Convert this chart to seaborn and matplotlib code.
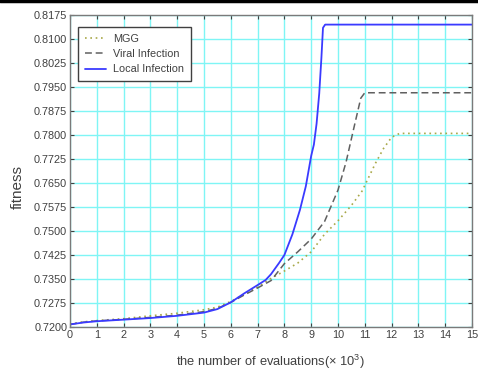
import matplotlib
matplotlib.use("Agg")
import matplotlib.pyplot as plt
import seaborn as sns
import pandas as pd
from matplotlib.lines import Line2D

# ---- data ----
local_x = [0, 0.5, 1, 2, 3, 4, 5, 5.5, 6, 6.5, 7, 7.3, 7.5, 7.8, 8, 8.3, 8.58, 8.8,
           9.0, 9.1, 9.2, 9.3, 9.38, 9.44, 9.52, 15]
local_y = [0.7208, 0.7214, 0.7218, 0.7223, 0.7228, 0.7235, 0.7245, 0.7256, 0.7277, 0.7305,
           0.7331, 0.7347, 0.7365, 0.7400, 0.7425, 0.7490, 0.7566, 0.7640,
           0.7735, 0.7770, 0.7835, 0.7930, 0.8040, 0.8135, 0.8145, 0.8145]

viral_x = [0, 0.5, 1, 2, 3, 4, 5, 5.5, 6, 6.5, 7, 7.5, 8, 8.5, 9, 9.5, 10, 10.3, 10.6,
           10.85, 11.0, 15]
viral_y = [0.7208, 0.7215, 0.7219, 0.7224, 0.7230, 0.7237, 0.7248, 0.7258, 0.7277, 0.7300,
           0.7322, 0.7345, 0.7398, 0.7435, 0.7475, 0.7530, 0.7628, 0.7715, 0.7825,
           0.7915, 0.7932, 0.7932]

mgg_x = [0, 0.5, 1, 2, 3, 4, 5, 5.5, 6, 6.5, 7, 7.5, 8, 8.5, 9, 9.5, 10, 10.5, 10.9,
         11.1, 11.4, 11.7, 12.0, 12.3, 15]
mgg_y = [0.7209, 0.7216, 0.7220, 0.7226, 0.7235, 0.7243, 0.7254, 0.7262, 0.7280, 0.7302,
         0.7325, 0.7352, 0.7375, 0.7400, 0.7435, 0.7490, 0.7532, 0.7580, 0.7625,
         0.7660, 0.7712, 0.7758, 0.7793, 0.7805, 0.7805]

series_names = ["MGG", "Viral Infection", "Local Infection"]
x_ticks = list(range(0, 16))
y_ticks = [0.7200, 0.7275, 0.7350, 0.7425, 0.7500, 0.7575, 0.7650, 0.7725,
           0.7800, 0.7875, 0.7950, 0.8025, 0.8100, 0.8175]
x_label = "the number of evaluations(× 10$^3$)"
y_label = "fitness"

# ---- plot ----
sns.set_style("white")
plt.rcParams['font.family'] = ['Liberation Sans', 'DejaVu Sans']
plt.rcParams['mathtext.fontset'] = 'custom'
plt.rcParams['mathtext.rm'] = 'Liberation Sans'

fig = plt.figure(figsize=(4.78, 3.74), dpi=100)
ax = fig.add_axes([70/478, 1-327/374, 402/478, 312/374])

df_m = pd.DataFrame({"x": mgg_x, "y": mgg_y})
df_v = pd.DataFrame({"x": viral_x, "y": viral_y})
df_l = pd.DataFrame({"x": local_x, "y": local_y})

sns.lineplot(data=df_m, x="x", y="y", ax=ax, color="#a8a848", lw=1.2,
             linestyle=(0, (1, 2.2)), label=series_names[0], sort=False, estimator=None)
sns.lineplot(data=df_v, x="x", y="y", ax=ax, color="#606060", lw=1.1,
             linestyle=(0, (4.5, 2.5)), label=series_names[1], sort=False, estimator=None)
sns.lineplot(data=df_l, x="x", y="y", ax=ax, color="#3a3aff", lw=1.3,
             linestyle="-", label=series_names[2], sort=False, estimator=None)

ax.set_xlim(0, 15)
ax.set_ylim(0.7200, 0.8175)
ax.set_xticks(x_ticks)
ax.set_yticks(y_ticks)
ax.set_yticklabels([f"{v:.4f}" for v in y_ticks])
ax.grid(True, color="#7ff5f5", lw=1.0)
ax.set_axisbelow(True)
ax.tick_params(direction="in", length=3, width=0.8, color="#404040",
               labelsize=7.8, labelcolor="#404040", top=True, right=True,
               bottom=True, left=True, pad=2)
for s in ax.spines.values():
    s.set_color("#7a7a7a")
    s.set_linewidth(1.0)

ax.set_xlabel(x_label, fontsize=9.3, color="#404040")
ax.xaxis.set_label_coords((270 - 70) / 402, -(353 - 327) / 312)
ax.set_ylabel(y_label, fontsize=11, color="#404040")
ax.yaxis.set_label_coords((25 - 70) / 402, 1 - (187 - 15) / 312)

leg = ax.legend(loc="upper left", bbox_to_anchor=((78 - 70) / 402, 1 - (27 - 15) / 312),
                borderaxespad=0, fontsize=7.8,
                frameon=True, fancybox=False, edgecolor="#404040", framealpha=1,
                handlelength=2.0, borderpad=0.6, labelspacing=0.5, handletextpad=0.65)
leg.get_frame().set_linewidth(1.0)
for t in leg.get_texts():
    t.set_color("#404040")

# top border line of the page
fig.add_artist(Line2D([0, 1], [0.996, 0.996], color="black", lw=2.5,
                      transform=fig.transFigure))

fig.savefig("out.png", dpi=100)
